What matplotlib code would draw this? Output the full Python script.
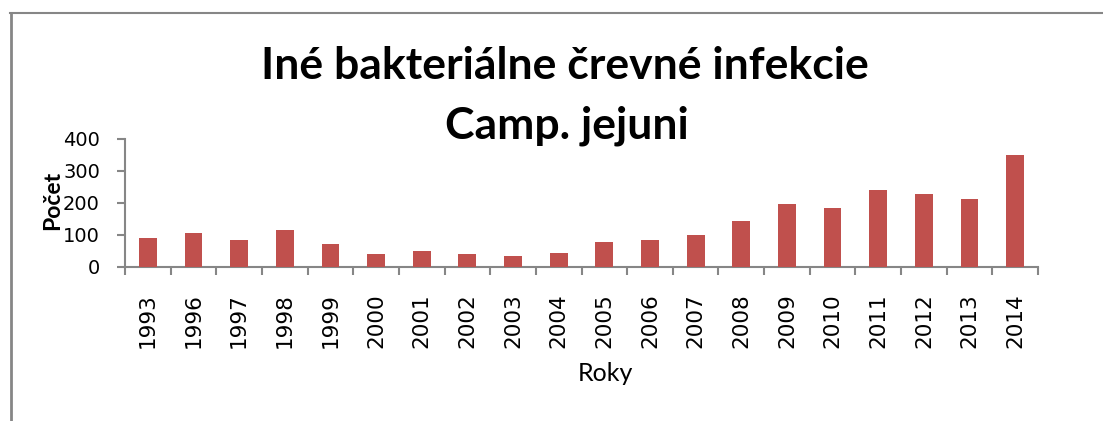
import matplotlib
matplotlib.use("Agg")
import matplotlib.pyplot as plt
from matplotlib.lines import Line2D
import numpy as np

years = ["1993", "1996", "1997", "1998", "1999", "2000", "2001", "2002", "2003", "2004",
         "2005", "2006", "2007", "2008", "2009", "2010", "2011", "2012", "2013", "2014"]
counts = [90, 106, 84, 115, 72, 41, 50, 40, 34, 44,
          78, 84, 100, 143, 196, 184, 240, 228, 212, 349]
yticks = [0, 100, 200, 300, 400]
title1 = "Iné bakteriálne črevné infekcie"
title2 = "Camp. jejuni"
xlabel = "Roky"
ylabel = "Počet"

W, H = 1103, 421
fig = plt.figure(figsize=(W / 100, H / 100), dpi=100)
fig.patch.set_facecolor("white")

ax = fig.add_axes([125 / W, 1 - 267 / H, (1038 - 125) / W, (267 - 138.7) / H])
x = np.arange(len(years))
ax.bar(x, counts, width=0.39, color="#C0504D", zorder=3)
ax.set_xlim(-0.5, len(years) - 0.5)
ax.set_ylim(0, 400)

grey = "#868686"
for s in ["top", "right"]:
    ax.spines[s].set_visible(False)
for s in ["left", "bottom"]:
    ax.spines[s].set_color(grey)
    ax.spines[s].set_linewidth(1.5)

ax.set_yticks(yticks)
ax.set_yticklabels([str(v) for v in yticks], fontsize=14, family="DejaVu Sans")
ax.tick_params(axis="y", direction="out", length=6, width=1.5, color=grey, pad=12)

ax.set_xticks(x)
ax.set_xticklabels(years, rotation=90, fontsize=15.5, family="DejaVu Sans")
ax.tick_params(axis="x", which="major", length=0, pad=19)
ax.set_xticks(np.arange(-0.5, len(years), 1.0), minor=True)
ax.tick_params(axis="x", which="minor", direction="out", length=6, width=1.5, color=grey)

fig.text(53 / W, 1 - 200 / H, ylabel, rotation=90, ha="center", va="center",
         fontsize=16.5, fontweight="bold", family="Lato")
fig.text(605 / W, 1 - 381 / H, xlabel, ha="center", va="baseline",
         fontsize=18, family="Lato")

fig.text(565 / W, 1 - 79 / H, title1, ha="center", va="baseline",
         fontsize=32, fontweight="bold", family="Lato")
fig.text(567 / W, 1 - 139 / H, title2, ha="center", va="baseline",
         fontsize=32, fontweight="bold", family="Lato")

# chart frame border
fig.add_artist(Line2D([10.5 / W, 10.5 / W], [1 - 13 / H, 0], transform=fig.transFigure,
                      color=grey, linewidth=2))
fig.add_artist(Line2D([10 / W, 1], [1 - 13 / H, 1 - 13 / H], transform=fig.transFigure,
                      color=grey, linewidth=1.5))

fig.savefig("out.png", dpi=100)
